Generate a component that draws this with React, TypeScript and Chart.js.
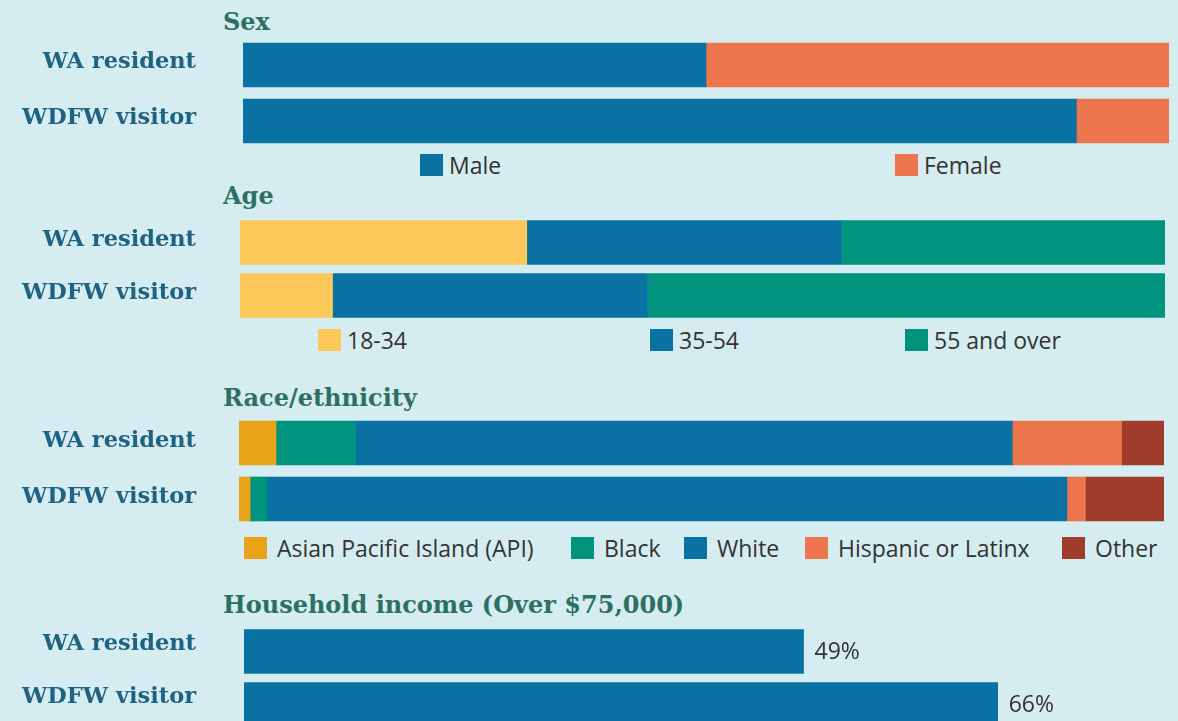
import React, { useEffect, useRef } from "react";
import { Chart, registerables } from "chart.js";

Chart.register(...registerables);

// ---------- data ----------
const rowLabels = ["WA resident", "WDFW visitor"];

const sexSeries = ["Male", "Female"];
const sexWA = [50, 50];
const sexWDFW = [90, 10];
const sexColors = ["#0a72a3", "#ec754d"];

const ageSeries = ["18-34", "35-54", "55 and over"];
const ageWA = [31, 34, 35];
const ageWDFW = [10, 34, 56];
const ageColors = ["#fdc85a", "#0a72a3", "#00937e"];

const raceSeries = ["Asian Pacific Island (API)", "Black", "White", "Hispanic or Latinx", "Other"];
const raceWA = [4, 8.6, 71, 11.8, 4.6];
const raceWDFW = [1.2, 1.8, 86.5, 2, 8.5];
const raceColors = ["#e9a317", "#00937e", "#0a72a3", "#ec754d", "#a03c2c"];

const incomeSeries = ["Household income (Over $75,000)"];
const incomeValues = [49, 66];
const incomeColors = ["#0a72a3"];

const titles = ["Sex", "Age", "Race/ethnicity", "Household income (Over $75,000)"];

// ---------- styles ----------
const BG = "#d5edf0";
const LABEL_COLOR = "#1f6282";
const TITLE_COLOR = "#2d7062";
const TEXT_COLOR = "#333333";
const SERIF = "'DejaVu Serif', serif";
const SANS = "'Open Sans', 'Noto Sans', sans-serif";
const W = 1178;
const LABEL_RIGHT = 196;

type PanelProps = {
  top: number;
  height: number;
  left: number;
  right: number;
  max: number;
  labelShift: number;
  series: string[];
  colors: string[];
  wa: number[];
  wdfw: number[];
  showValues?: boolean;
};

const valueLabelPlugin = {
  id: "valueLabels",
  afterDatasetsDraw(chart: any) {
    if (!chart.options.plugins.valueLabels?.enabled) return;
    const ctx = chart.ctx;
    const meta = chart.getDatasetMeta(0);
    const data = chart.data.datasets[0].data;
    ctx.save();
    ctx.font = `23px ${SANS}`;
    ctx.fillStyle = TEXT_COLOR;
    ctx.textAlign = "left";
    ctx.textBaseline = "middle";
    meta.data.forEach((bar: any, i: number) => {
      ctx.fillText(`${data[i]}%`, bar.x + 11, bar.y + 1);
    });
    ctx.restore();
  },
};

function Panel(p: PanelProps) {
  const ref = useRef<HTMLCanvasElement | null>(null);
  useEffect(() => {
    if (!ref.current) return;
    const chart = new Chart(ref.current, {
      type: "bar",
      data: {
        labels: rowLabels,
        datasets: p.series.map((name, i) => ({
          label: name,
          data: p.wdfw.length ? [p.wa[i], p.wdfw[i]] : p.wa,
          backgroundColor: p.colors[i],
          borderWidth: 0,
          barThickness: 44,
        })),
      },
      options: {
        indexAxis: "y",
        animation: false,
        responsive: false,
        maintainAspectRatio: false,
        layout: { padding: { left: 0, right: W - p.right, top: 0, bottom: 0 } },
        plugins: {
          legend: { display: false },
          tooltip: { enabled: false },
          valueLabels: { enabled: !!p.showValues },
        } as any,
        scales: {
          x: { stacked: true, display: false, min: 0, max: p.max },
          y: {
            stacked: true,
            grid: { display: false, drawTicks: false },
            border: { display: false },
            ticks: {
              padding: p.left - LABEL_RIGHT,
              labelOffset: p.labelShift,
              color: LABEL_COLOR,
              font: { family: SERIF, weight: "bold", size: 22.5 },
            },
            afterFit: (s: any) => {
              s.width = p.left;
              s.paddingTop = 0;
              s.paddingBottom = 0;
            },
          },
        },
      },
      plugins: [valueLabelPlugin],
    } as any);
    return () => chart.destroy();
  }, []);
  return (
    <canvas
      ref={ref}
      width={W}
      height={p.height}
      style={{ position: "absolute", left: 0, top: p.top, width: W, height: p.height, display: "block" }}
    />
  );
}

function Title({ text, baseline }: { text: string; baseline: number }) {
  return (
    <div
      style={{
        position: "absolute",
        left: 223,
        top: baseline - 20,
        fontFamily: SERIF,
        fontWeight: "bold",
        fontSize: 24,
        lineHeight: "24px",
        color: TITLE_COLOR,
        whiteSpace: "nowrap",
      }}
    >
      {text}
    </div>
  );
}

function Legend({ names, colors, xs, cy, gap }: { names: string[]; colors: string[]; xs: number[]; cy: number; gap: number }) {
  return (
    <>
      {names.map((n, i) => (
        <div
          key={n}
          style={{
            position: "absolute",
            left: xs[i],
            top: cy - 15,
            height: 30,
            display: "flex",
            alignItems: "center",
            whiteSpace: "nowrap",
            fontFamily: SANS,
            fontSize: 23,
            color: TEXT_COLOR,
          }}
        >
          <span style={{ display: "inline-block", width: 23, height: 22, background: colors[i], marginRight: gap }} />
          <span>{n}</span>
        </div>
      ))}
    </>
  );
}

export default function App() {
  return (
    <div
      style={{
        position: "absolute",
        left: 0,
        top: 0,
        width: W,
        height: 721,
        overflow: "hidden",
        background: BG,
      }}
    >
      <Title text={titles[0]} baseline={30} />
      <Panel top={37} height={112} left={243} right={1169} max={100} labelShift={-3} series={sexSeries} colors={sexColors} wa={sexWA} wdfw={sexWDFW} />
      <Legend names={sexSeries} colors={sexColors} xs={[420, 895]} cy={165} gap={6} />

      <Title text={titles[1]} baseline={204} />
      <Panel top={216} height={106} left={240} right={1165} max={100} labelShift={-2} series={ageSeries} colors={ageColors} wa={ageWA} wdfw={ageWDFW} />
      <Legend names={ageSeries} colors={ageColors} xs={[318, 650, 905]} cy={340} gap={6} />

      <Title text={titles[2]} baseline={406} />
      <Panel top={415} height={112} left={239} right={1164} max={100} labelShift={-2} series={raceSeries} colors={raceColors} wa={raceWA} wdfw={raceWDFW} />
      <Legend names={raceSeries} colors={raceColors} xs={[244, 571, 684, 805, 1062]} cy={548} gap={10} />

      <Title text={titles[3]} baseline={613} />
      <Panel top={625} height={106} left={244} right={1169} max={81} labelShift={-7} series={incomeSeries} colors={incomeColors} wa={incomeValues} wdfw={[]} showValues />
    </div>
  );
}
